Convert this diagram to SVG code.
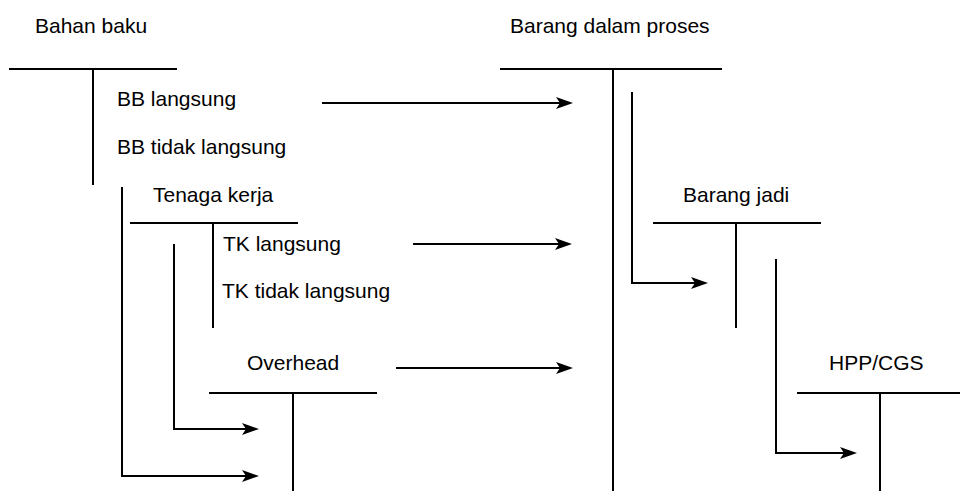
<svg xmlns="http://www.w3.org/2000/svg" width="960" height="491" viewBox="0 0 960 491">
<defs>
<style>
.ln{stroke:#000;stroke-width:2;fill:none}
.ar{stroke:#000;stroke-width:2;fill:none;marker-end:url(#ah)}
text{font-family:"Liberation Sans",Arial,sans-serif;font-size:21px;fill:#000}
</style>
<marker id="ah" markerUnits="userSpaceOnUse" markerWidth="18" markerHeight="14" refX="12" refY="6" orient="auto">
<path d="M0,0 L17,6 L0,12 L4,6 z" fill="#000"/>
</marker>
</defs>
<rect width="960" height="491" fill="#fff"/>
<g id="bahan-baku">
<text x="35" y="33">Bahan baku</text>
<path class="ln" d="M9,69 H177 M93,69 V185"/>
<text x="117" y="106">BB langsung</text>
<text x="117" y="154">BB tidak langsung</text>
</g>
<g id="tenaga-kerja">
<text x="153" y="202">Tenaga kerja</text>
<path class="ln" d="M130,223 H298 M213,223 V328"/>
<text x="223" y="251">TK langsung</text>
<text x="222" y="298">TK tidak langsung</text>
</g>
<g id="overhead">
<text x="247" y="370">Overhead</text>
<path class="ln" d="M209,393 H377 M293,393 V491"/>
</g>
<g id="barang-dalam-proses">
<text x="510" y="33">Barang dalam proses</text>
<path class="ln" d="M500,69 H722 M613,69 V491"/>
</g>
<g id="barang-jadi">
<text x="683" y="202">Barang jadi</text>
<path class="ln" d="M653,223 H821 M736,223 V328"/>
</g>
<g id="hpp-cgs">
<text x="829" y="370">HPP/CGS</text>
<path class="ln" d="M797,393 H965 M880,393 V491"/>
</g>
<g id="connectors">
<path class="ar" d="M322,103 H568"/>
<path class="ar" d="M413,244 H567"/>
<path class="ar" d="M396,368 H568"/>
<path class="ar" d="M174,244 V429 H254"/>
<path class="ar" d="M122,187 V476 H254"/>
<path class="ar" d="M632,92 V283 H703"/>
<path class="ar" d="M776,259 V453 H852"/>
</g>
</svg>
